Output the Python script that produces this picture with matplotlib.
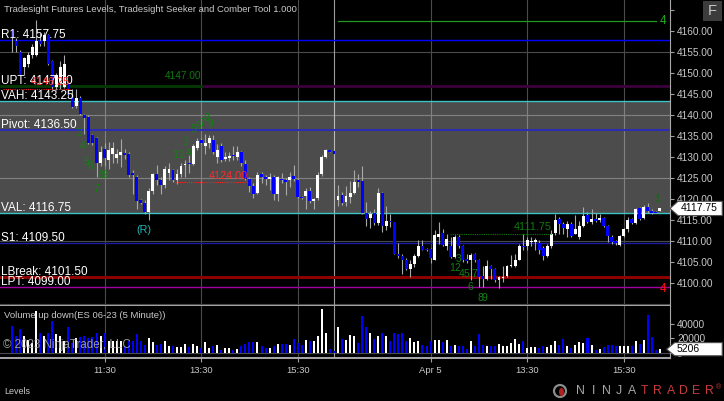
import matplotlib
matplotlib.use('Agg')
import matplotlib.pyplot as plt
from matplotlib.patches import Rectangle, Polygon, Ellipse
import numpy as np

plt.rcParams['font.family'] = ['Liberation Sans', 'DejaVu Sans']

# ES 06-23, 5 minute bars, two sessions (Apr 4 / Apr 5)
opens = [
    4160.25, 4157.5, 4155.0, 4151.5, 4152.25, 4154.25, 4154.25, 4157.5, 4157.5, 4159.0,
    4152.75, 4146.75, 4147.5, 4146.75, 4147.5, 4144.75, 4142.25, 4144.0, 4140.0, 4139.5,
    4135.25, 4134.5, 4128.5, 4132.0, 4129.25, 4130.75, 4129.75, 4130.5, 4131.0, 4130.75,
    4126.25, 4125.25, 4119.75, 4119.0, 4117.0, 4122.0, 4126.0, 4124.5, 4123.25, 4126.25,
    4127.0, 4124.5, 4126.0, 4128.0, 4128.5, 4128.25, 4132.25, 4134.0, 4132.5, 4133.25,
    4134.0, 4130.0, 4132.5, 4129.5, 4129.75, 4130.5, 4130.0, 4131.25, 4128.25, 4124.75,
    4123.0, 4121.5, 4126.0, 4125.25, 4124.75, 4125.25, 4121.25, 4124.75, 4124.5, 4124.5,
    4125.5, 4124.5, 4120.5, 4120.75, 4122.0, 4119.5, 4120.25, 4126.0, 4130.0, 4131.75,
    4131.5,
    4119.75, 4121.0, 4119.25, 4120.5, 4121.5, 4124.5, 4124.25, 4116.75, 4115.5, 4116.75,
    4114.25, 4121.5, 4113.5, 4114.75, 4114.5, 4107.0, 4106.5, 4105.5, 4103.25, 4104.5,
    4106.5, 4108.75, 4108.0, 4108.0, 4105.5, 4111.0, 4112.0, 4108.75, 4108.75, 4106.25,
    4111.0, 4108.75, 4105.75, 4105.5, 4107.0, 4105.5, 4101.75, 4101.0, 4104.0, 4103.25,
    4100.75, 4101.25, 4101.75, 4104.0, 4104.0, 4105.5, 4108.75, 4108.75, 4109.75, 4109.75,
    4109.5, 4108.25, 4106.5, 4108.75, 4112.0, 4115.25, 4114.0, 4112.75, 4114.0, 4111.75,
    4111.0, 4113.5, 4116.25, 4114.5, 4115.25, 4115.0, 4115.5, 4113.5, 4111.0, 4110.0,
    4109.0, 4111.25, 4112.75, 4115.25, 4114.25, 4117.75, 4115.5, 4118.0, 4117.25, 4117.0,
    4117.25,
]
highs = [
    4160.5, 4158.25, 4155.5, 4153.75, 4155.0, 4157.0, 4162.5, 4159.5, 4159.75, 4159.25,
    4153.0, 4150.0, 4152.75, 4154.25, 4147.75, 4146.25, 4146.25, 4144.5, 4140.25, 4140.0,
    4135.5, 4134.75, 4132.5, 4133.25, 4133.5, 4133.5, 4132.0, 4134.25, 4132.0, 4131.25,
    4127.0, 4125.75, 4120.0, 4119.75, 4122.5, 4126.25, 4128.0, 4125.25, 4127.75, 4128.5,
    4127.25, 4127.25, 4128.5, 4129.25, 4130.5, 4133.0, 4134.5, 4134.5, 4135.5, 4135.25,
    4135.25, 4133.0, 4133.25, 4131.25, 4131.25, 4132.5, 4132.5, 4131.5, 4129.25, 4125.25,
    4123.75, 4126.5, 4126.5, 4125.75, 4126.25, 4125.75, 4125.5, 4126.25, 4125.0, 4126.5,
    4128.0, 4125.0, 4120.75, 4122.5, 4122.75, 4120.25, 4126.5, 4130.5, 4132.0, 4131.75,
    4131.5,
    4123.25, 4121.75, 4123.0, 4124.25, 4127.0, 4126.0, 4127.75, 4119.25, 4117.25, 4117.5,
    4122.5, 4121.75, 4118.25, 4116.5, 4114.5, 4109.5, 4107.0, 4106.0, 4105.5, 4107.0,
    4110.25, 4110.25, 4108.25, 4108.25, 4112.5, 4114.5, 4112.75, 4111.75, 4111.0, 4111.5,
    4111.5, 4109.0, 4107.0, 4107.25, 4107.25, 4105.75, 4104.0, 4105.5, 4104.25, 4103.5,
    4101.75, 4104.0, 4104.25, 4106.75, 4107.0, 4109.25, 4111.75, 4111.0, 4111.0, 4110.75,
    4110.25, 4108.75, 4109.25, 4112.5, 4116.5, 4115.75, 4114.5, 4114.75, 4114.5, 4116.25,
    4114.75, 4118.0, 4117.0, 4117.5, 4116.75, 4116.5, 4115.75, 4113.75, 4111.5, 4110.25,
    4111.5, 4113.0, 4115.75, 4115.5, 4117.75, 4118.0, 4118.5, 4119.0, 4117.5, 4117.25,
    4117.75,
]
lows = [
    4155.0, 4155.0, 4149.5, 4149.5, 4151.5, 4153.5, 4154.0, 4156.5, 4156.5, 4152.0,
    4146.25, 4146.0, 4146.25, 4146.5, 4144.25, 4141.75, 4141.75, 4140.0, 4135.5, 4133.0,
    4132.75, 4125.25, 4127.75, 4127.75, 4127.25, 4128.5, 4128.5, 4127.5, 4129.5, 4125.25,
    4121.25, 4117.5, 4118.75, 4116.5, 4115.0, 4121.25, 4123.25, 4121.25, 4122.5, 4124.5,
    4124.0, 4123.5, 4125.25, 4125.25, 4126.25, 4128.0, 4131.75, 4133.0, 4130.75, 4132.25,
    4130.75, 4128.5, 4128.75, 4129.0, 4129.0, 4129.25, 4129.25, 4127.75, 4124.5, 4121.75,
    4120.25, 4121.25, 4123.75, 4123.25, 4122.25, 4119.75, 4119.5, 4123.75, 4121.0, 4122.75,
    4124.25, 4120.25, 4120.0, 4117.5, 4119.0, 4117.5, 4119.75, 4125.5, 4129.75, 4131.25,
    4130.5,
    4118.25, 4118.5, 4118.25, 4119.0, 4121.25, 4122.75, 4116.5, 4113.5, 4113.0, 4113.75,
    4113.75, 4112.25, 4112.5, 4113.25, 4107.0, 4106.0, 4102.25, 4103.0, 4101.5, 4103.75,
    4106.25, 4107.75, 4107.5, 4104.75, 4105.5, 4109.25, 4108.75, 4107.75, 4106.0, 4106.0,
    4108.25, 4105.0, 4104.75, 4100.75, 4105.0, 4099.0, 4099.0, 4100.75, 4101.0, 4100.25,
    4098.75, 4100.25, 4101.5, 4103.75, 4103.75, 4105.5, 4107.75, 4107.75, 4108.75, 4107.75,
    4107.0, 4105.5, 4106.25, 4108.25, 4111.5, 4111.75, 4111.75, 4111.0, 4111.0, 4111.75,
    4110.5, 4113.25, 4114.25, 4114.0, 4114.5, 4114.5, 4113.25, 4109.75, 4109.25, 4109.0,
    4108.75, 4111.0, 4112.25, 4114.0, 4114.0, 4115.0, 4115.25, 4116.75, 4116.5, 4116.75,
    4117.25,
]
closes = [
    4158.25, 4156.5, 4149.5, 4153.5, 4154.25, 4156.25, 4157.5, 4157.0, 4159.0, 4152.25,
    4146.75, 4149.5, 4151.5, 4152.25, 4144.75, 4142.0, 4144.0, 4140.25, 4139.25, 4133.25,
    4133.25, 4128.5, 4131.25, 4129.75, 4131.75, 4132.25, 4130.75, 4131.25, 4130.5, 4125.75,
    4125.75, 4119.5, 4119.0, 4117.0, 4122.0, 4126.0, 4124.5, 4123.25, 4127.25, 4127.25,
    4124.5, 4126.0, 4127.75, 4128.25, 4128.25, 4132.5, 4133.75, 4133.25, 4133.25, 4134.5,
    4131.25, 4131.75, 4129.25, 4130.0, 4130.25, 4130.25, 4131.25, 4128.5, 4124.75, 4123.0,
    4121.25, 4125.75, 4125.25, 4124.75, 4125.25, 4121.25, 4125.25, 4124.5, 4124.0, 4125.25,
    4124.75, 4120.5, 4120.25, 4122.0, 4119.5, 4120.0, 4125.75, 4130.0, 4131.75, 4131.25,
    4130.75,
    4120.75, 4119.0, 4120.75, 4121.5, 4124.0, 4124.0, 4116.75, 4115.25, 4116.5, 4114.25,
    4121.5, 4113.5, 4114.75, 4114.5, 4107.0, 4106.5, 4105.5, 4103.25, 4104.5, 4106.5,
    4108.75, 4107.75, 4107.75, 4106.0, 4111.5, 4111.75, 4109.0, 4110.5, 4106.25, 4111.0,
    4108.75, 4105.5, 4105.25, 4106.75, 4105.5, 4101.5, 4101.0, 4104.0, 4103.25, 4100.75,
    4101.5, 4101.5, 4104.0, 4104.25, 4105.5, 4108.75, 4108.5, 4110.25, 4110.0, 4110.25,
    4107.75, 4106.5, 4108.75, 4111.75, 4115.0, 4114.0, 4113.0, 4114.0, 4111.25, 4112.75,
    4113.5, 4116.0, 4114.5, 4115.25, 4114.75, 4115.5, 4113.5, 4111.25, 4109.75, 4109.5,
    4111.25, 4112.75, 4115.0, 4114.25, 4117.5, 4115.25, 4118.0, 4117.25, 4116.75, 4116.75,
    4117.75,
]
volumes = [
    37400, 23700, 32900, 22800, 17400, 14000, 57000, 27400, 22800, 27400,
    44300, 26000, 23700, 16000, 35600, 13700, 20500, 21900, 22800, 20500,
    21900, 27400, 22800, 27400, 16000, 16000, 16000, 16000, 10000, 16000,
    16000, 26500, 16000, 11400, 20500, 14600, 11400, 12800, 16000, 9100,
    9100, 8200, 8200, 12800, 8200, 12300, 9100, 6800, 15000, 6800,
    9100, 11400, 4600, 6800, 6800, 4600, 5500, 9100, 12800, 14600,
    15000, 15000, 10000, 6800, 6800, 9100, 12800, 12800, 12800, 11400,
    19200, 13700, 11400, 18300, 16000, 16000, 23700, 60300, 27400, 5500,
    2300,
    36000, 19000, 18000, 25000, 23000, 14000, 51000, 35000, 27000, 19000,
    23000, 27000, 23000, 17000, 27000, 25500, 28000, 16000, 21000, 15000,
    17000, 11000, 10000, 16000, 18000, 18000, 15000, 18000, 10000, 11000,
    10000, 10000, 5500, 16000, 10000, 26500, 11000, 10000, 9000, 9000,
    13000, 9000, 10000, 14000, 19000, 13000, 17000, 7000, 8000, 8000,
    6500, 9000, 8000, 11000, 16000, 11000, 19000, 10000, 7000, 11000,
    14500, 13700, 20500, 11000, 4500, 5500, 8000, 11000, 11000, 10000,
    10000, 9000, 9000, 10000, 16000, 12800, 17300, 52500, 22000, 4500,
    5206,
]

time_ticks = [23, 47, 71, 104, 128, 152]
time_labels = ['11:30', '13:30', '15:30', 'Apr 5', '13:30', '15:30']
session_break = 80

level_names = ['R1', 'UPT', 'VAH', 'Pivot', 'VAL', 'S1', 'LBreak', 'LPT']
level_values = [4157.75, 4147.00, 4143.25, 4136.50, 4116.75, 4109.50, 4101.50, 4099.00]
level_colors = ['#0000ff', '#3c003c', '#3cc3c3', '#2c2cb0', '#3cc3c3', '#1c1ca0', '#8c0000', '#a000a0']
level_widths = [1.0, 2.0, 1.0, 1.5, 1.0, 1.0, 2.2, 1.0]

# Seeker / Comber counts
seq_text = ['3', '4', '5', '6', '7', '8', '9',
            '1', '2', '3', '4', '5', '6', '7', '8', '9',
            '1', '2', '3', '4', '5', '6', '7', '8', '9']
seq_bar = [16.9, 17.6, 18.6, 19.6, 20.9, 22.1, 23.1,
           40.5, 42.0, 43.0, 44.0, 45.2, 46.2, 47.2, 48.2, 49.2,
           109.3, 110.6, 111.0, 111.8, 112.8, 114.0, 115.0, 116.3, 117.3]
seq_price = [4135.7, 4132.6, 4128.8, 4127.9, 4122.4, 4125.7, 4125.7,
             4130.5, 4130.5, 4133.6, 4131.0, 4136.7, 4137.4, 4138.1, 4139.3, 4137.9,
             4103.6, 4103.6, 4105.7, 4102.1, 4102.1, 4099.0, 4102.1, 4096.4, 4096.4]

opens = np.array(opens); highs = np.array(highs)
lows = np.array(lows); closes = np.array(closes)
volumes = np.array(volumes)
bars = np.arange(len(closes))
up = closes >= opens
body_col = np.where(up, '#ffffff', '#0000ff')

W, H = 724, 401
fig = plt.figure(figsize=(W / 100, H / 100), dpi=100, facecolor='black')
ax = fig.add_axes([0, (H - 306) / H, 670 / W, 306 / H], facecolor='black')
axv = fig.add_axes([0, (H - 358) / H, 670 / W, 52 / H], facecolor='black', sharex=ax)

def px(x, y):
    return x / W, 1 - y / H

grid_c = '#4b4b4b'
for t in time_ticks:
    ax.axvline(t, color=grid_c, lw=0.8, zorder=0.5)
    axv.axvline(t, color=grid_c, lw=0.8, zorder=0.5)
for a in (ax, axv):
    a.axvline(session_break, color='#9c9c9c', lw=0.8, zorder=0.6)
for p in [4155, 4140, 4125, 4110, 4095]:
    ax.axhline(p, color=grid_c, lw=0.8, zorder=0.5)
axv.axhline(0, color=grid_c, lw=0.8, zorder=0.5)

# value area band
ax.axhspan(level_values[4], level_values[2], color='white', alpha=0.3, lw=0, zorder=1)

for name, val, col, lw in zip(level_names, level_values, level_colors, level_widths):
    ax.axhline(val, color=col, lw=lw, zorder=2)
    ax.annotate(f'{name}: {val:.2f}', xy=(0, val), xycoords=('axes fraction', 'data'),
                xytext=(1, 1.5), textcoords='offset points', va='baseline', ha='left',
                color='white', fontsize=8.5, zorder=8)

# other drawn levels
ax.plot([-3, 47], [4147.0, 4147.0], color='#003a00', lw=2, zorder=2)
ax.text(47, 4148.0, '4147.00', color='#0e7a0e', fontsize=7.3, ha='right', va='bottom', zorder=8)
ax.plot([-2.2, 14.4], [4146.25, 4146.25], color='#ff2020', lw=0.8, ls=(0, (1, 1)), zorder=5)
ax.text(14.4, 4146.6, '4146.25', color='#ff2a2a', fontsize=7.8, ha='right', va='bottom', zorder=8)
ax.plot([40.5, 58.6], [4124.0, 4124.0], color='#ff2020', lw=0.8, ls=(0, (1, 1)), zorder=5)
ax.text(58.6, 4124.3, '4124.00', color='#ff2a2a', fontsize=7.8, ha='right', va='bottom', zorder=8)
ax.plot([108.8, 134.2], [4111.75, 4111.75], color='#0a7a0a', lw=0.8, ls=(0, (1, 1)), zorder=5)
ax.text(134.2, 4112.1, '4111.75', color='#0e7a0e', fontsize=7.8, ha='right', va='bottom', zorder=8)
ax.plot([81, 160], [4162.4, 4162.4], color='#1f9a1f', lw=0.9, zorder=2)
ax.text(161.7, 4162.3, '4', color='#22b022', fontsize=8.5, ha='center', va='center', zorder=8)
ax.text(161.7, 4098.6, '4', color='#ff1010', fontsize=8.5, ha='center', va='center', zorder=8)
ax.text(160.2, 4120.0, '1', color='#0e6e0e', fontsize=7.5, ha='center', va='center', zorder=8)
ax.text(32.8, 4112.5, '(R)', color='#22b4b4', fontsize=7.8, ha='center', va='center', zorder=8)
for s, b, p in zip(seq_text, seq_bar, seq_price):
    ax.text(b, p, s, color='#128012', fontsize=7.5, ha='center', va='center', zorder=7)

# candles
ax.vlines(bars, lows, highs, color='#a8a8a8', lw=0.8, zorder=3)
ax.bar(bars, np.maximum(np.abs(closes - opens), 0.2), bottom=np.minimum(opens, closes),
       width=0.72, color=body_col, lw=0, zorder=4)

# volume
axv.bar(bars, volumes, width=0.5, color=body_col, lw=0, zorder=3)

ax.set_xlim(-2.98, 163.5)
ax.set_ylim(4094.52, 4167.38)
axv.set_ylim(-6850, 64400)

tick_c = '#c8c8c8'
ax.yaxis.tick_right()
yt = list(range(4100, 4170, 5))
ax.set_yticks(yt)
ax.set_yticklabels([f'{v:.2f}' if v < 4165 else '' for v in yt])
ax.tick_params(axis='y', colors='#a0a0a0', labelcolor=tick_c, labelsize=7.3, length=3, pad=2)
ax.tick_params(axis='x', bottom=False, labelbottom=False)

axv.yaxis.tick_right()
axv.set_yticks([0, 20000, 40000])
axv.set_yticklabels(['0', '20000', '40000'])
axv.tick_params(axis='y', colors='#a0a0a0', labelcolor=tick_c, labelsize=7.3, length=3, pad=2)
axv.set_xticks(time_ticks)
axv.set_xticklabels(time_labels)
axv.tick_params(axis='x', colors='#a0a0a0', labelcolor=tick_c, labelsize=6.8, length=3, pad=3)

for a in (ax, axv):
    a.spines['top'].set_visible(False)
    a.spines['left'].set_visible(False)
    a.spines['right'].set_color('#a8a8a8')
    a.spines['bottom'].set_color('#a8a8a8')
    a.spines['bottom'].set_linewidth(1.4)

# last price / last volume tags
c_last = closes[-1]
ax.add_patch(Polygon([(1.0, c_last), (1.012, c_last + 1.7), (1.078, c_last + 1.7),
                      (1.078, c_last - 1.7), (1.012, c_last - 1.7)], closed=True,
                     transform=ax.get_yaxis_transform(), facecolor='white',
                     edgecolor='#505050', lw=0.8, clip_on=False, zorder=10))
ax.text(1.0155, c_last, f'{c_last:.2f}', transform=ax.get_yaxis_transform(),
        color='black', fontsize=7.5, va='center', ha='left', zorder=11, clip_on=False)
v_last = volumes[-1]
axv.add_patch(Polygon([(0.995, v_last), (1.007, v_last + 9000), (1.078, v_last + 9000),
                       (1.078, v_last - 9000), (1.007, v_last - 9000)], closed=True,
                      transform=axv.get_yaxis_transform(), facecolor='white',
                      edgecolor='#505050', lw=0.8, clip_on=False, zorder=10))
axv.text(1.0105, v_last, f'{v_last}', transform=axv.get_yaxis_transform(),
         color='black', fontsize=7.5, va='center', ha='left', zorder=11, clip_on=False)

# panel texts
fig.text(*px(4, 9), 'Tradesight Futures Levels, Tradesight Seeker and Comber Tool 1.000',
         color=tick_c, fontsize=6.8, va='center', ha='left')
fig.text(*px(4, 316), 'Volume up down(ES 06-23 (5 Minute))', color=tick_c, fontsize=6.8,
         va='center', ha='left')
fig.text(*px(3, 345), '\u00a9 2023 NinjaTrader, LLC', color='#b4b4b4', fontsize=8.3,
         va='center', ha='left', alpha=0.85)
fig.text(*px(4, 392), 'Levels', color=tick_c, fontsize=6.5, va='center', ha='left')

# F button
fig.patches.append(Rectangle(px(703, 21), 19 / W, 20 / H, transform=fig.transFigure,
                             facecolor='#3c3c3c', edgecolor='none'))
fig.text(*px(712.5, 11), 'F', color='#c8c8c8', fontsize=10.5, ha='center', va='center')

# NinjaTrader logo
fig.patches.append(Ellipse(px(560, 391), 12 / W, 12 / H, transform=fig.transFigure,
                           facecolor='none', edgecolor='#8c8c8c', lw=1.6))
fig.patches.append(Ellipse(px(561.5, 392), 5 / W, 8 / H, transform=fig.transFigure,
                           facecolor='#b02020', edgecolor='none'))
logo = 'NINJATRADER'
for k, ch in enumerate(logo):
    fig.text(*px(574 + 12.9 * (k + 0.5), 391), ch, fontsize=8.8, ha='center', va='center',
             color='#a8a8a8' if k < 5 else '#c83c3c')
fig.text(*px(719, 388), '\u00ae', fontsize=5, ha='center', va='center', color='#c83c3c')

fig.savefig('out.png', dpi=100, facecolor='black')
